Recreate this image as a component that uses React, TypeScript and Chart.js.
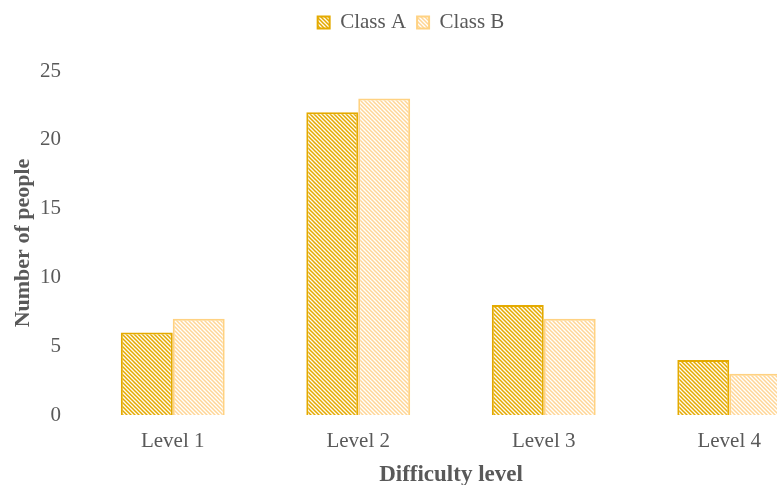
import React, { useEffect, useRef } from "react";
import { Chart, registerables } from "chart.js";

Chart.register(...registerables);

const categories = ["Level 1", "Level 2", "Level 3", "Level 4"];
const classA = [6, 22, 8, 4];
const classB = [7, 23, 7, 3];
const seriesNames = ["Class A", "Class B"];

function makePattern(line: string, bg: string, size = 4, lw = 1.5) {
  const c = document.createElement("canvas");
  c.width = size;
  c.height = size;
  const ctx = c.getContext("2d")!;
  ctx.fillStyle = bg;
  ctx.fillRect(0, 0, size, size);
  ctx.strokeStyle = line;
  ctx.lineWidth = lw;
  ctx.beginPath();
  ctx.moveTo(-1, -1);
  ctx.lineTo(size + 1, size + 1);
  ctx.moveTo(-1, size - 1);
  ctx.lineTo(1, size + 1);
  ctx.moveTo(size - 1, -1);
  ctx.lineTo(size + 1, 1);
  ctx.stroke();
  const p = document.createElement("canvas").getContext("2d")!.createPattern(c, "repeat");
  return p as CanvasPattern;
}

const legendGap = {
  id: "legendGap",
  beforeInit(chart: any) {
    const legend = chart.legend;
    if (!legend) return;
    const orig = legend.fit;
    legend.fit = function () {
      orig.call(this);
      this.height += 28;
    };
  },
};

export default function App() {
  const ref = useRef<HTMLCanvasElement | null>(null);
  useEffect(() => {
    document.body.style.margin = "0";
    document.body.style.overflow = "hidden";
    const ctx = ref.current!.getContext("2d")!;
    const patA = makePattern("rgb(228,170,0)", "#fffaf0");
    const patB = makePattern("rgb(255,214,150)", "#ffffff");
    const font = "'Liberation Serif', 'Times New Roman', serif";
    const chart = new Chart(ctx, {
      type: "bar",
      plugins: [legendGap],
      data: {
        labels: categories,
        datasets: [
          {
            label: seriesNames[0],
            data: classA,
            backgroundColor: patA,
            borderColor: "rgb(228,170,0)",
            borderWidth: 2,
            categoryPercentage: 0.56,
            barPercentage: 1.0,
          },
          {
            label: seriesNames[1],
            data: classB,
            backgroundColor: patB,
            borderColor: "rgb(255,210,130)",
            borderWidth: 2,
            categoryPercentage: 0.56,
            barPercentage: 1.0,
          },
        ],
      },
      options: {
        animation: false,
        responsive: false,
        maintainAspectRatio: false,
        layout: { padding: { top: 1, left: 0, right: 8, bottom: 0 } },
        plugins: {
          legend: {
            position: "top",
            labels: {
              boxWidth: 12,
              boxHeight: 12,
              color: "#595959",
              font: { family: font, size: 21 },
              padding: 11,
            },
          },
          tooltip: { enabled: false },
        },
        scales: {
          x: {
            grid: { display: false, drawTicks: false },
            border: { display: false },
            ticks: { color: "#595959", font: { family: font, size: 21 }, padding: 14 },
            title: {
              display: true,
              text: "Difficulty level",
              color: "#595959",
              font: { family: font, size: 23, weight: "bold" },
              padding: { top: 0, bottom: -4 },
            },
            afterFit: (scale: any) => {
              scale.height = 70;
            },
          },
          y: {
            min: 0,
            max: 25,
            grid: { display: false, drawTicks: false },
            border: { display: false },
            ticks: { stepSize: 5, color: "#595959", font: { family: font, size: 21 }, padding: 19 },
            title: {
              display: true,
              text: "Number of people",
              color: "#595959",
              font: { family: font, size: 22, weight: "bold" },
              padding: { top: 10, bottom: 0 },
            },
            afterFit: (scale: any) => {
              scale.width = 80;
            },
          },
        },
      },
    });
    return () => chart.destroy();
  }, []);
  return (
    <div style={{ width: 830, height: 485, overflow: "hidden" }}>
      <canvas ref={ref} width={830} height={485} style={{ display: "block" }} />
    </div>
  );
}
